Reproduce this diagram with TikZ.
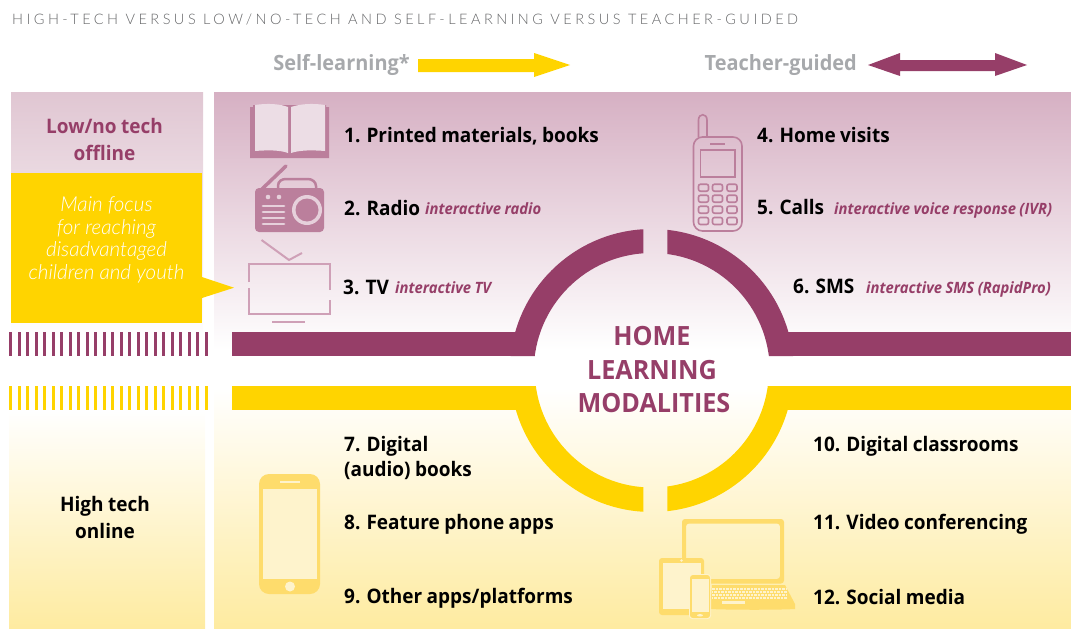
\documentclass[tikz,border=0pt]{standalone}
\usepackage{fontspec}
\setmainfont{Open Sans}
\newfontfamily\semibx{Open Sans}[FakeStretch=0.95,WordSpace=0.9]
\newcommand{\semib}{\semibx\bfseries}
\newfontfamily\lightitx{Lato Light}
\newcommand{\lightit}{\lightitx\itshape}
\newfontfamily\titlef{Lato Light}[LetterSpace=24]
\definecolor{plum}{HTML}{963E68}
\definecolor{gold}{HTML}{FFD400}
\definecolor{iconp}{HTML}{BB7F9C}
\definecolor{iconq}{HTML}{CFA0B7}
\definecolor{icony}{HTML}{FEDC6C}
\definecolor{pagep}{HTML}{ECDDE5}
\definecolor{radiol}{HTML}{E6D0DB}
\definecolor{screeny}{HTML}{FEF3CC}
\definecolor{greyt}{HTML}{A7A9AC}
\definecolor{panelL}{HTML}{E0C6D2}
\definecolor{panelR}{HTML}{D6B0C3}
\definecolor{panelY}{HTML}{FEEBA0}
\tikzset{
  item/.style={anchor=base west,inner sep=0pt,font=\semib\fontsize{20}{24}\selectfont,text=black},
  note/.style={anchor=base west,inner sep=0pt,font=\semib\itshape\fontsize{15.6}{18}\selectfont,text=plum},
  head/.style={anchor=base,inner sep=0pt,font=\semib\fontsize{20}{24}\selectfont},
  topword/.style={anchor=base east,inner sep=0pt,font=\semib\fontsize{21}{24}\selectfont,text=greyt},
  centre/.style={anchor=base,inner sep=0pt,font=\semib\fontsize{26.5}{30}\selectfont,text=plum},
  focus/.style={anchor=base,inner sep=0pt,font=\lightit\fontsize{20.6}{24}\selectfont,text=white},
}
\begin{document}
\begin{tikzpicture}[x=1pt,y=-1pt]
\useasboundingbox (0,0) rectangle (1071,629);
% panels
\shade[top color=panelL,bottom color=white] (11,92) rectangle (203,340);
\shade[top color=panelR,bottom color=white] (214,92) rectangle (1071,350);
\shade[top color=white,bottom color=panelY] (9,410) rectangle (205,629);
\shade[top color=white,bottom color=panelY] (214,388) rectangle (1071,629);
% stripes
\foreach \i in {0,...,23} {
  \fill[plum] ({9+8.52*\i},332) rectangle ({12+8.52*\i},356);
  \fill[gold] ({9+8.52*\i},386) rectangle ({12+8.52*\i},410);
}
% yellow focus box
\fill[gold] (11,173) rectangle (202,323);
\fill[gold] (202,277) -- (234,287.7) -- (202,298) -- cycle;
% bars and arcs
\fill[plum] (232,332) rectangle (525,356);
\fill[plum] (778,332) rectangle (1071,356);
\fill[gold] (232,386) rectangle (525,410);
\fill[gold] (778,386) rectangle (1071,410);
\begin{scope}
  \clip (500,200) rectangle (643.3,356) (667.3,200) rectangle (800,356);
  \fill[plum,even odd rule] (651.8,371) circle[radius=142pt] (651.8,371) circle[radius=118pt];
\end{scope}
\begin{scope}
  \clip (500,386) rectangle (643.3,540) (667.3,386) rectangle (800,540);
  \fill[gold,even odd rule] (651.8,370.5) circle[radius=141.5pt] (651.8,370.5) circle[radius=117pt];
\end{scope}
% direction arrows
\fill[gold] (418,59) -- (534,59) -- (534,53) -- (570,65) -- (534,77) -- (534,72) -- (418,72) -- cycle;
\fill[plum] (868,65) -- (900,53) -- (900,60) -- (995,60) -- (995,53) -- (1027,65) -- (995,76) -- (995,71) -- (900,71) -- (900,76) -- cycle;
% book
\fill[iconp] (250,107) -- (253,107) -- (253,105) -- (326,105) -- (326,107) -- (329,107) -- (329,158) -- (250,158) -- cycle;
\fill[pagep] (255,105) .. controls (268,103) and (280,104) .. (288,107) -- (288,153) .. controls (280,150) and (268,150) .. (255,151) -- cycle;
\fill[pagep] (291,107) .. controls (300,104) and (312,103) .. (325,105) -- (325,151) .. controls (312,150) and (300,150) .. (291,153) -- cycle;
% radio
\draw[iconp,line width=3.5pt,line cap=round] (261,190) -- (286,166);
\draw[iconp,line width=2.5pt] (278,190) -- (278,186) .. controls (278,181) and (282,179) .. (286,179) -- (308,179) .. controls (312,179) and (316,182) .. (316,186) -- (316,190);
\fill[iconp,rounded corners=4pt] (255,188) rectangle (324,232);
\fill[radiol] (307,210) circle[radius=15pt];
\fill[iconp] (307,210) circle[radius=11.5pt];
\fill[radiol] (268,197) circle[radius=2.3pt] (279,197) circle[radius=2.3pt];
\foreach \yy in {206,212,218,224} \draw[radiol,line width=2.8pt,line cap=round] (263,\yy) -- (284,\yy);
% TV
\begin{scope}[iconq,line width=2pt]
  \draw (249,282) -- (249,263.5) -- (330,263.5) -- (330,290);
  \draw (249,288) -- (249,314) -- (330,314) -- (330,300);
  \draw[line width=2pt] (261.5,240) -- (289,260) -- (302,253);
  \draw (272,322) -- (305,322);
\end{scope}
% feature phone
\begin{scope}[iconp,line width=1.6pt]
  \draw (698.5,137) -- (698.5,120) .. controls (698.5,113) and (707,113) .. (707,120) -- (707,137);
  \draw[rounded corners=9pt] (693.5,137) rectangle (742,231);
  \draw (710,144) -- (725,144);
  \draw (700.5,150) rectangle (735,177);
  \foreach \cx in {703.5,717.5,732} \foreach \cy in {187.7,198.7,209.7,221}
    \draw[rounded corners=2pt] ({\cx-5},{\cy-3.5}) rectangle ({\cx+5},{\cy+3.5});
\end{scope}
% smartphone
\fill[icony,rounded corners=10pt] (259,474) rectangle (320,594);
\fill[screeny] (263,489) rectangle (317,579);
\draw[screeny,line width=1.5pt] (280,482) -- (300,482);
\fill[screeny] (290,586.5) circle[radius=5pt];
% laptop
\fill[icony,rounded corners=3pt,even odd rule] (682,519) rectangle (784,583.5) (686,523.5) rectangle (780,579);
\fill[icony] (712,585) -- (785,585) -- (795,604) -- (795,609) .. controls (780,610) and (730,610) .. (710,609) -- cycle;
\foreach \yy/\off in {589/0,592/1.5,595/0,598/1.5}
  \draw[screeny,line width=1.6pt,dash pattern=on 2.5pt off 1pt,dash phase=\off] (712,\yy) -- (787,\yy);
\draw[screeny,line width=2.2pt] (722,602.5) -- (745,602.5);
% tablet
\fill[icony,rounded corners=3pt] (659,558) rectangle (704,615);
\fill[screeny] (662.5,563) rectangle (701,609);
\fill[screeny] (681.5,560.5) circle[radius=1.3pt];
% small phone
\draw[screeny,line width=1pt,rounded corners=3pt] (689.5,574.5) rectangle (710.5,618.5);
\fill[icony,rounded corners=3pt] (690,575) rectangle (710,618);
\fill[screeny] (691.5,579) rectangle (708.5,612);
\fill[screeny] (700,615.3) ellipse[x radius=3pt,y radius=1.2pt];
% heading
\node[anchor=base west,inner sep=0pt,text=greyt!60!black,font=\titlef\fontsize{14.5}{16}\selectfont] (title) at (12,24) {HIGH-TECH VERSUS LOW/NO-TECH AND SELF-LEARNING VERSUS TEACHER-GUIDED};
\node[topword] (self) at (410,70) {Self-learning*};
\node[topword] (teacher) at (857,70) {Teacher-guided};
% side labels
\node[head,text=plum] (low1) at (104.5,133) {Low/no tech};
\node[head,text=plum] (low2) at (104.5,160) {offline};
\node[head,text=black] (high1) at (105,511) {High tech};
\node[head,text=black] (high2) at (105,538) {online};
\node[focus] (f1) at (106.5,211) {Main focus};
\node[focus] (f2) at (106.5,234) {for reaching};
\node[focus] (f3) at (106.5,256) {disadvantaged};
\node[focus] (f4) at (106.5,279) {children and youth};
% centre
\node[centre] (c1) at (652,345) {HOME};
\node[centre] (c2) at (652,379) {LEARNING};
\node[centre] (c3) at (654,412) {MODALITIES};
% items
\node[item] (i1) at (344,142) {1. Printed materials, books};
\node[item] (i2) at (344,215) {2. Radio};
\node[note] (n2) at (425,214) {interactive radio};
\node[item] (i3) at (343,294) {3. TV};
\node[note] (n3) at (395,293) {interactive TV};
\node[item] (i4) at (757,142) {4. Home visits};
\node[item] (i5) at (757,214) {5. Calls};
\node[note] (n5) at (834,214) {interactive voice response (IVR)};
\node[item] (i6) at (793,293) {6. SMS};
\node[note] (n6) at (866,293) {interactive SMS (RapidPro)};
\node[item] (i7a) at (344,451) {7. Digital};
\node[item] (i7b) at (344,476) {(audio) books};
\node[item] (i8) at (344,529) {8. Feature phone apps};
\node[item] (i9) at (344,603) {9. Other apps/platforms};
\node[item] (i10) at (813,451) {10. Digital classrooms};
\node[item] (i11) at (813,529) {11. Video conferencing};
\node[item] (i12) at (813,604) {12. Social media};
\end{tikzpicture}
\end{document}
